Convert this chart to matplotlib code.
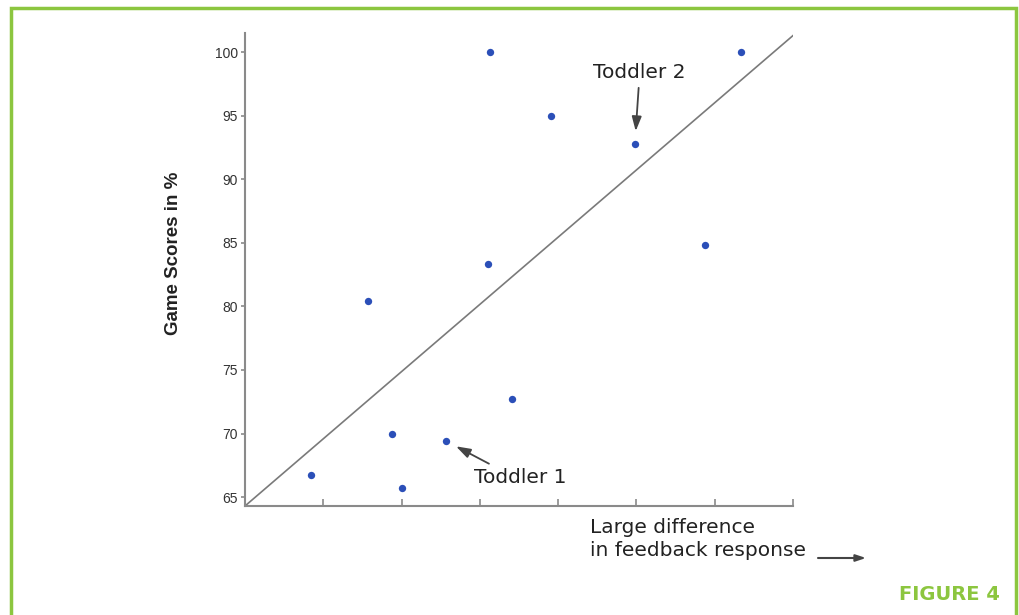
import matplotlib
matplotlib.use("Agg")
import matplotlib.pyplot as plt
from matplotlib.patches import Rectangle

# data (x axis has no labels, units are tick steps)
feedback_diff = [0.84, 1.57, 1.88, 2.00, 2.57, 3.10, 3.13, 3.41, 3.91, 4.98, 5.87, 6.33]
game_scores = [66.7, 80.4, 70.0, 65.7, 69.4, 83.3, 100.0, 72.7, 95.0, 92.8, 84.8, 100.0]
trend_x = [0, 7]
trend_y = [64.3, 101.3]
y_ticks = [65, 70, 75, 80, 85, 90, 95, 100]
x_ticks = [1, 2, 3, 4, 5, 6, 7]
toddler1 = 4   # index into the lists
toddler2 = 9

green = "#8cc63f"
grey = "#8a8a8a"

fig = plt.figure(figsize=(10.2, 6.15), dpi=100)
fig.patch.set_facecolor("white")

# green frame, bottom edge runs off the picture
fig.patches.append(Rectangle((11 / 1020, -0.05), (1016 - 11) / 1020, 1.05 - 8 / 615,
                             transform=fig.transFigure, fill=False,
                             edgecolor=green, linewidth=2.5))

ax = fig.add_axes([245 / 1020, 1 - 506 / 615, (793 - 245) / 1020, (506 - 33) / 615])
ax.plot(trend_x, trend_y, color="#7a7a7a", linewidth=1.2, zorder=2)
ax.scatter(feedback_diff, game_scores, s=28, color="#2b4fb8", zorder=3, linewidths=0)

ax.set_xlim(0, 7)
ax.set_ylim(64.3, 101.5)
ax.set_yticks(y_ticks)
ax.set_xticks(x_ticks)
ax.set_xticklabels([])
for s in ["top", "right"]:
    ax.spines[s].set_visible(False)
for s in ["left", "bottom"]:
    ax.spines[s].set_color(grey)
    ax.spines[s].set_linewidth(1.5)
ax.tick_params(axis="x", direction="in", length=5, width=1.2, color=grey)
ax.tick_params(axis="y", direction="out", length=3, width=1.2, color=grey,
               labelsize=10, labelcolor="#333333", pad=2)
for lab in ax.get_yticklabels():
    lab.set_family("Liberation Sans")

ax.set_ylabel("Game Scores in %", fontsize=13.5, fontweight="bold",
              family="Liberation Sans", color="#222222")
ax.yaxis.set_label_coords(-0.115, 0.535)

arrow = dict(arrowstyle="-|>,head_length=0.6,head_width=0.2", color="#444444", lw=1.3)
ax.annotate("Toddler 1", xy=(feedback_diff[toddler1], game_scores[toddler1]),
            xytext=(53, -26), textcoords="offset points", ha="center", va="center",
            fontsize=14.5, color="#222222",
            arrowprops=dict(arrow, shrinkA=2, shrinkB=8, relpos=(0.25, 1.0)))
ax.annotate("Toddler 2", xy=(feedback_diff[toddler2], game_scores[toddler2]),
            xytext=(3, 51), textcoords="offset points", ha="center", va="center",
            fontsize=14.5, color="#222222",
            arrowprops=dict(arrow, shrinkA=2, shrinkB=9, relpos=(0.5, 0.0)))

fig.text(590 / 1020, 1 - 518 / 615, "Large difference\nin feedback response",
         ha="left", va="top", fontsize=14.5, color="#222222", linespacing=1.3)
ax.annotate("", xy=(866 / 1020, 1 - 558 / 615), xytext=(818 / 1020, 1 - 558 / 615),
            xycoords="figure fraction", textcoords="figure fraction",
            arrowprops=dict(arrowstyle="-|>,head_length=0.6,head_width=0.2",
                            color="#444444", lw=1.5, shrinkA=0, shrinkB=0))

fig.text(1000 / 1020, 1 - 594 / 615, "FIGURE 4", ha="right", va="center",
         fontsize=14, fontweight="bold", color=green)

fig.savefig("out.png", dpi=100)
